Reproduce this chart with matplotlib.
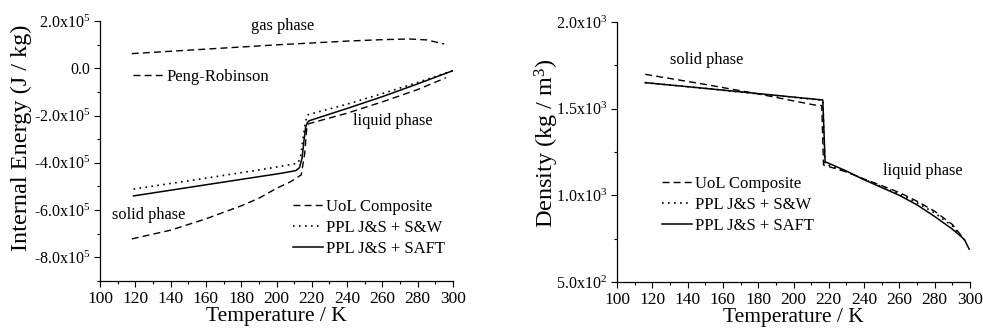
import numpy as np
import matplotlib
matplotlib.use('Agg')
import matplotlib.pyplot as plt
from matplotlib.ticker import MultipleLocator, FixedLocator, FixedFormatter

plt.rcParams['font.family'] = ['Liberation Serif', 'DejaVu Serif']
plt.rcParams['mathtext.fontset'] = 'custom'
plt.rcParams['mathtext.rm'] = 'Liberation Serif'
plt.rcParams['mathtext.it'] = 'Liberation Serif:italic'

# ---- internal energy panel (J/kg, in units of 1e5) ----
T_pr = [118, 140, 160, 180, 200, 220, 240, 260, 275, 285, 295]
U_pr = [0.62, 0.72, 0.81, 0.90, 0.99, 1.07, 1.15, 1.21, 1.24, 1.20, 1.03]

T_uol = [118, 140, 160, 180, 190, 200, 208, 214, 216, 217.3, 218.5, 240, 260, 280, 296]
U_uol = [-7.22, -6.85, -6.37, -5.82, -5.5, -5.08, -4.8, -4.51, -3.6, -2.4, -2.34,
         -1.9, -1.42, -0.9, -0.4]

T_sw = [119, 160, 196, 212, 213.5, 215, 216.3, 217.5, 240, 260, 280, 300]
U_sw = [-5.11, -4.65, -4.23, -4.02, -3.8, -3.0, -2.3, -1.97, -1.52, -1.07, -0.6, -0.1]

T_saft = [119, 160, 202, 211, 213, 214.5, 215.5, 216.5, 217.5, 218.5, 240, 260, 280, 300]
U_saft = [-5.4, -4.93, -4.45, -4.33, -4.2, -3.8, -3.1, -2.5, -2.3, -2.22,
          -1.7, -1.2, -0.66, -0.1]

# ---- density panel (kg/m3) ----
Td_uol = [116, 150, 180, 212, 216, 217, 230, 240, 250, 260, 270, 280, 290, 296]
rho_uol = [1698, 1640, 1585, 1521, 1518, 1175, 1135, 1094, 1056, 1016, 966, 908, 832, 755]

Td_sw = [116, 150, 180, 216.6, 217.8, 230, 240, 250, 260, 270, 280, 290, 297]
rho_sw = [1650, 1617, 1585, 1549, 1182, 1137, 1092, 1050, 1007, 957, 898, 823, 742]

Td_saft = [116, 150, 180, 216.6, 217.9, 230, 240, 250, 260, 270, 280, 290, 295, 297, 299.5]
rho_saft = [1650, 1617, 1587, 1550, 1194, 1140, 1090, 1045, 1000, 945, 878, 805, 762, 742, 690]

U_ticks = [-8, -6, -4, -2, 0, 2]
U_labels = [r'-8.0x10$^{5}$', r'-6.0x10$^{5}$', r'-4.0x10$^{5}$', r'-2.0x10$^{5}$',
            '0.0', r'2.0x10$^{5}$']
rho_ticks = [500, 1000, 1500, 2000]
rho_labels = [r'5.0x10$^{2}$', r'1.0x10$^{3}$', r'1.5x10$^{3}$', r'2.0x10$^{3}$']

dash = (0, (5, 3))
dot = (0, (1, 2.6))
fs_leg = 12
fs_txt = 11.8

fig = plt.figure(figsize=(9.83, 3.31), dpi=100)
ax1 = fig.add_axes([100/983, 1-281/331, 353/983, 260/331])
ax2 = fig.add_axes([617/983, 1-282/331, 353/983, 260/331])

def style(ax):
    for s in ['top', 'right']:
        ax.spines[s].set_visible(False)
    for s in ['left', 'bottom']:
        ax.spines[s].set_linewidth(0.9)
    ax.tick_params(which='major', direction='out', length=4, width=0.8)
    ax.tick_params(which='minor', direction='out', length=2.5, width=0.8)
    ax.tick_params(axis='x', labelsize=12.5, pad=3)
    ax.tick_params(axis='y', labelsize=11.5, pad=3)
    ax.set_xlim(100, 300)
    ax.xaxis.set_major_locator(MultipleLocator(20))
    ax.xaxis.set_minor_locator(MultipleLocator(10))
    ax.set_xlabel('Temperature / K', fontsize=15.5, labelpad=0)

# left
p1, = ax1.plot(T_pr, np.array(U_pr)*1e5, color='black', lw=1, linestyle=dash)
l1, = ax1.plot(T_uol, np.array(U_uol)*1e5, color='black', lw=1, linestyle=dash)
l2, = ax1.plot(T_sw, np.array(U_sw)*1e5, color='black', lw=1.2, linestyle=dot)
l3, = ax1.plot(T_saft, np.array(U_saft)*1e5, color='black', lw=1.1)
style(ax1)
ax1.set_ylim(-9e5, 2e5)
ax1.yaxis.set_major_locator(FixedLocator(np.array(U_ticks)*1e5))
ax1.yaxis.set_major_formatter(FixedFormatter(U_labels))
ax1.yaxis.set_minor_locator(MultipleLocator(1e5))
ax1.set_ylabel('Internal Energy (J / kg)', fontsize=17.5)
ax1.yaxis.set_label_coords(-0.192, 0.55)

leg = ax1.legend([l1, l2, l3], ['UoL Composite', 'PPL J&S + S&W', 'PPL J&S + SAFT'],
                 loc='center left', bbox_to_anchor=(293/983, 1-228/331),
                 bbox_transform=fig.transFigure, frameon=False, fontsize=fs_leg,
                 handlelength=1.8, handletextpad=0.2, labelspacing=0.3, borderpad=0,
                 borderaxespad=0)
ax1.add_artist(leg)
ax1.legend([p1], ['Peng-Robinson'], loc='center left',
           bbox_to_anchor=(133/983, 1-77/331), bbox_transform=fig.transFigure,
           frameon=False, fontsize=fs_leg, handlelength=1.8, handletextpad=0.2,
           borderpad=0, borderaxespad=0)

ax1.text(203.6, 1.77e5, 'gas phase', fontsize=fs_txt, ha='center', va='center')
ax1.text(265.8, -2.24e5, 'liquid phase', fontsize=fs_txt, ha='center', va='center')
ax1.text(127.7, -6.2e5, 'solid phase', fontsize=fs_txt, ha='center', va='center')

# right
r1, = ax2.plot(Td_uol, rho_uol, color='black', lw=1, linestyle=dash)
r2, = ax2.plot(Td_sw, rho_sw, color='black', lw=1.2, linestyle=dot)
r3, = ax2.plot(Td_saft, rho_saft, color='black', lw=1.1)
style(ax2)
ax2.set_ylim(500, 2000)
ax2.yaxis.set_major_locator(FixedLocator(rho_ticks))
ax2.yaxis.set_major_formatter(FixedFormatter(rho_labels))
ax2.yaxis.set_minor_locator(MultipleLocator(250))
ax2.set_ylabel('Density (kg / m$^{3}$)', fontsize=17.5)
ax2.yaxis.set_label_coords(-0.16, 0.535)

ax2.legend([r1, r2, r3], ['UoL Composite', 'PPL J&S + S&W', 'PPL J&S + SAFT'],
           loc='center left', bbox_to_anchor=(662/983, 1-205/331),
           bbox_transform=fig.transFigure, frameon=False, fontsize=fs_leg,
           handlelength=1.8, handletextpad=0.2, labelspacing=0.3, borderpad=0,
           borderaxespad=0)
ax2.text(151, 1781, 'solid phase', fontsize=fs_txt, ha='center', va='center')
ax2.text(273.4, 1140, 'liquid phase', fontsize=fs_txt, ha='center', va='center')

fig.savefig('out.png', dpi=100)
